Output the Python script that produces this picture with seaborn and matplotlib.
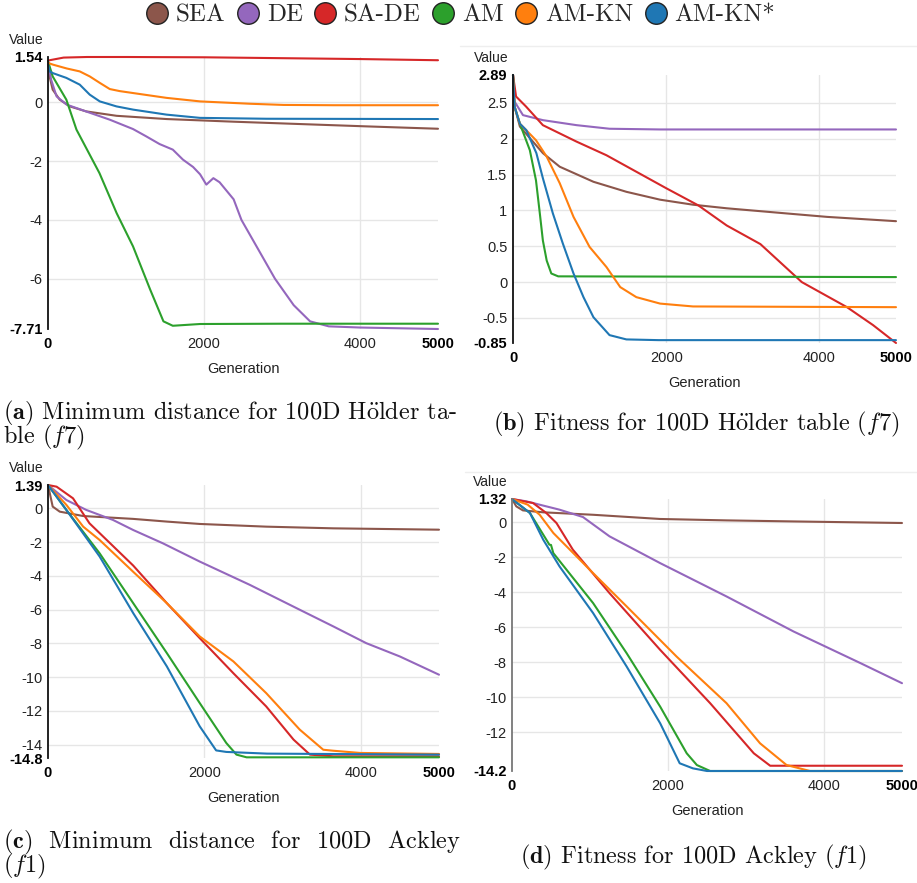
import matplotlib
matplotlib.use("Agg")
import matplotlib.pyplot as plt
from matplotlib.lines import Line2D
from matplotlib.font_manager import FontProperties
import seaborn as sns
import pandas as pd

# ---------------- data ----------------
algorithms = ["SEA", "DE", "SA-DE", "AM", "AM-KN", "AM-KN*"]
colors = ["#8c564b", "#9467bd", "#d62728", "#2ca02c", "#ff7f0e", "#1f77b4"]

# (a) Minimum distance, Holder table
a_SEA_gen = [0, 20, 60, 150, 280, 490, 880, 1520, 2380, 3230, 4090, 5000]
a_SEA_val = [1.40, 0.88, 0.43, 0.09, -0.14, -0.31, -0.46, -0.57, -0.66, -0.74, -0.82, -0.90]
a_DE_gen = [0, 40, 110, 240, 540, 790, 1090, 1260, 1430, 1600, 1730, 1860, 1950, 2030, 2120, 2200, 2380, 2480, 2910, 3150, 3360, 3600, 4000, 5000]
a_DE_val = [1.40, 0.77, 0.20, -0.08, -0.36, -0.59, -0.91, -1.16, -1.42, -1.61, -1.95, -2.20, -2.45, -2.80, -2.58, -2.72, -3.30, -4.00, -6.00, -6.90, -7.45, -7.62, -7.66, -7.71]
a_SADE_gen = [0, 200, 500, 1000, 2000, 3000, 4000, 5000]
a_SADE_val = [1.42, 1.52, 1.54, 1.54, 1.53, 1.50, 1.47, 1.43]
a_AM_gen = [0, 60, 235, 365, 660, 880, 1090, 1310, 1480, 1600, 1950, 3000, 5000]
a_AM_val = [1.40, 0.88, 0.09, -0.93, -2.41, -3.77, -4.90, -6.37, -7.45, -7.60, -7.54, -7.53, -7.53]
a_AMKN_gen = [0, 64, 240, 407, 535, 664, 792, 920, 1180, 1520, 1950, 2590, 3020, 3660, 5000]
a_AMKN_val = [1.34, 1.28, 1.15, 1.05, 0.88, 0.66, 0.45, 0.38, 0.28, 0.15, 0.03, -0.05, -0.09, -0.10, -0.10]
a_AMKNs_gen = [0, 20, 64, 235, 407, 535, 664, 878, 1092, 1520, 1948, 2800, 5000]
a_AMKNs_val = [1.30, 1.05, 0.99, 0.83, 0.60, 0.26, 0.03, -0.14, -0.25, -0.42, -0.53, -0.56, -0.57]

# (b) Fitness, Holder table
b_SEA_gen = [0, 20, 90, 390, 610, 1050, 1480, 1920, 2350, 2790, 3660, 4100, 5000]
b_SEA_val = [2.89, 2.45, 2.17, 1.80, 1.61, 1.40, 1.26, 1.15, 1.08, 1.03, 0.95, 0.91, 0.85]
b_DE_gen = [0, 20, 130, 390, 830, 1260, 1920, 5000]
b_DE_val = [2.89, 2.52, 2.33, 2.26, 2.19, 2.14, 2.13, 2.13]
b_SADE_gen = [0, 40, 170, 390, 830, 1220, 1610, 2000, 2420, 2790, 3230, 3770, 4360, 4700, 5000]
b_SADE_val = [2.89, 2.59, 2.45, 2.19, 1.96, 1.77, 1.54, 1.31, 1.07, 0.79, 0.53, 0.00, -0.35, -0.60, -0.85]
b_AM_gen = [0, 20, 90, 220, 300, 350, 390, 440, 500, 590, 5000]
b_AM_val = [2.89, 2.45, 2.21, 1.84, 1.42, 0.96, 0.58, 0.30, 0.12, 0.08, 0.07]
b_AMKN_gen = [0, 20, 90, 300, 440, 610, 790, 1000, 1220, 1400, 1610, 1920, 2350, 5000]
b_AMKN_val = [2.89, 2.45, 2.21, 1.98, 1.75, 1.38, 0.91, 0.49, 0.21, -0.07, -0.21, -0.30, -0.34, -0.35]
b_AMKNs_gen = [0, 20, 90, 174, 305, 390, 520, 650, 790, 920, 1050, 1260, 1480, 1900, 5000]
b_AMKNs_val = [2.89, 2.45, 2.21, 2.12, 1.80, 1.45, 0.96, 0.54, 0.12, -0.21, -0.49, -0.74, -0.80, -0.81, -0.81]

# (c) Minimum distance, Ackley
c_SEA_gen = [0, 60, 150, 450, 1090, 1520, 1940, 2790, 3650, 5000]
c_SEA_val = [1.39, 0.11, -0.19, -0.45, -0.62, -0.78, -0.92, -1.08, -1.18, -1.26]
c_DE_gen = [0, 235, 490, 830, 1090, 1470, 1940, 2580, 3220, 3650, 4070, 4500, 5000]
c_DE_val = [1.39, 0.50, -0.09, -0.68, -1.28, -2.07, -3.15, -4.53, -6.01, -7.00, -7.99, -8.78, -9.86]
c_SADE_gen = [0, 110, 320, 530, 1090, 1520, 1940, 2370, 2790, 3140, 3350, 3650, 5000]
c_SADE_val = [1.39, 1.29, 0.60, -0.88, -3.39, -5.62, -7.69, -9.77, -11.74, -13.71, -14.60, -14.70, -14.70]
c_AM_gen = [0, 235, 660, 1090, 1520, 1940, 2280, 2410, 2540, 5000]
c_AM_val = [1.39, -0.09, -2.66, -5.62, -8.58, -11.54, -13.91, -14.60, -14.76, -14.76]
c_AMKN_gen = [0, 235, 450, 660, 1090, 1520, 1940, 2370, 2790, 3220, 3520, 3650, 3990, 5000]
c_AMKN_val = [1.39, 0.21, -1.08, -1.87, -3.76, -5.62, -7.59, -9.07, -10.95, -13.12, -14.31, -14.37, -14.50, -14.56]
c_AMKNs_gen = [0, 235, 660, 1090, 1520, 1940, 2150, 2280, 2800, 5000]
c_AMKNs_val = [1.39, -0.09, -2.85, -6.21, -9.37, -12.92, -14.35, -14.44, -14.54, -14.60]

# (d) Fitness, Ackley
d_SEA_gen = [0, 55, 140, 400, 1040, 1900, 2750, 3610, 5000]
d_SEA_val = [1.32, 0.90, 0.67, 0.56, 0.42, 0.18, 0.10, 0.04, -0.05]
d_DE_gen = [0, 180, 610, 910, 1250, 1900, 2750, 3610, 4470, 5000]
d_DE_val = [1.32, 1.19, 0.71, 0.29, -0.81, -2.34, -4.24, -6.24, -8.05, -9.19]
d_SADE_gen = [0, 270, 440, 570, 780, 1250, 1900, 2540, 3100, 3310, 5000]
d_SADE_val = [1.32, 1.09, 0.52, -0.05, -1.57, -4.05, -7.29, -10.33, -13.19, -13.90, -13.90]
d_AM_gen = [0, 230, 480, 500, 530, 1040, 1470, 1900, 2240, 2370, 2540, 5000]
d_AM_val = [1.32, 0.52, -1.29, -1.30, -1.77, -4.62, -7.48, -10.53, -13.19, -13.86, -14.2, -14.2]
d_AMKN_gen = [0, 200, 355, 530, 1040, 1470, 2110, 2750, 3180, 3520, 3820, 5000]
d_AMKN_val = [1.32, 1.00, 0.42, -0.62, -2.91, -4.81, -7.67, -10.33, -12.62, -13.86, -14.2, -14.2]
d_AMKNs_gen = [0, 230, 400, 610, 1040, 1470, 1900, 2150, 2320, 2500, 5000]
d_AMKNs_val = [1.32, 0.52, -1.00, -2.53, -5.19, -8.24, -11.48, -13.76, -14.05, -14.2, -14.2]

a_yticks = [-7.71, -6, -4, -2, 0, 1.54]
b_yticks = [-0.85, -0.5, 0, 0.5, 1, 1.5, 2, 2.5, 2.89]
c_yticks = [-14.8, -14, -12, -10, -8, -6, -4, -2, 0, 1.39]
d_yticks = [-14.2, -12, -10, -8, -6, -4, -2, 0, 1.32]
xticks = [0, 2000, 4000, 5000]

caption_a = "$\\mathbf{(a)}$ Minimum distance for 100D H$\\ddot{\\mathrm{o}}$lder ta-\nble $(f7)$"
caption_b = r"$\mathbf{(b)}$ Fitness for 100D H$\ddot{\mathrm{o}}$lder table $(f7)$"
caption_c = "$\\mathbf{(c)}$  Minimum  distance  for  100D  Ackley\n$(f1)$"
caption_d = r"$\mathbf{(d)}$ Fitness for 100D Ackley $(f1)$"


def frame(gens, vals):
    rows = []
    for alg, g, v in zip(algorithms, gens, vals):
        for gg, vv in zip(g, v):
            rows.append({"Generation": gg, "Value": vv, "Algorithm": alg})
    return pd.DataFrame(rows)


panels = [
    (frame([a_SEA_gen, a_DE_gen, a_SADE_gen, a_AM_gen, a_AMKN_gen, a_AMKNs_gen],
           [a_SEA_val, a_DE_val, a_SADE_val, a_AM_val, a_AMKN_val, a_AMKNs_val]),
     a_yticks, (48, 438, 57, 329), "#111111"),
    (frame([b_SEA_gen, b_DE_gen, b_SADE_gen, b_AM_gen, b_AMKN_gen, b_AMKNs_gen],
           [b_SEA_val, b_DE_val, b_SADE_val, b_AM_val, b_AMKN_val, b_AMKNs_val]),
     b_yticks, (513, 896, 75, 343), "#111111"),
    (frame([c_SEA_gen, c_DE_gen, c_SADE_gen, c_AM_gen, c_AMKN_gen, c_AMKNs_gen],
           [c_SEA_val, c_DE_val, c_SADE_val, c_AM_val, c_AMKN_val, c_AMKNs_val]),
     c_yticks, (48, 439, 485, 758), "#111111"),
    (frame([d_SEA_gen, d_DE_gen, d_SADE_gen, d_AM_gen, d_AMKN_gen, d_AMKNs_gen],
           [d_SEA_val, d_DE_val, d_SADE_val, d_AM_val, d_AMKN_val, d_AMKNs_val]),
     d_yticks, (512, 902, 499, 771), "#777777"),
]

# ---------------- drawing ----------------
sns.set_theme(style="white")
plt.rcParams["font.family"] = ["Liberation Sans", "DejaVu Sans"]
plt.rcParams["mathtext.fontset"] = "cm"

W, H = 917, 883
fig = plt.figure(figsize=(W / 100, H / 100), dpi=100)
fig.patch.set_facecolor("white")

for df, yt, (x0, x1, yt_px, yb_px), spine_col in panels:
    ax = fig.add_axes([x0 / W, 1 - yb_px / H, (x1 - x0) / W, (yb_px - yt_px) / H])
    ax.set_facecolor("white")
    sns.lineplot(data=df, x="Generation", y="Value", hue="Algorithm",
                 hue_order=algorithms, palette=colors, estimator=None,
                 legend=False, linewidth=1.5, ax=ax)
    for ln in ax.get_lines():
        ln.set_clip_on(False)
    ax.set_xlim(0, 5000)
    ax.set_ylim(yt[0], yt[-1])
    ax.set_xticks(xticks)
    ax.set_xticklabels([str(x) for x in xticks])
    ax.set_yticks(yt)
    ax.set_yticklabels([f"{v:g}" for v in yt])
    ax.tick_params(axis="both", length=0, labelsize=10.5, colors="#222222")
    ax.tick_params(axis="y", pad=4)
    ax.tick_params(axis="x", pad=6)
    for lab in (ax.get_yticklabels()[0], ax.get_yticklabels()[-1],
                ax.get_xticklabels()[0], ax.get_xticklabels()[-1]):
        lab.set_fontweight("bold")
        lab.set_color("black")
    ax.grid(True, color="#e6e6e6", linewidth=1.0)
    ax.set_axisbelow(True)
    for gl in (ax.yaxis.get_gridlines()[0], ax.yaxis.get_gridlines()[-1],
               ax.xaxis.get_gridlines()[0], ax.xaxis.get_gridlines()[-1]):
        gl.set_visible(False)
    for s in ("top", "right", "bottom"):
        ax.spines[s].set_visible(False)
    ax.spines["left"].set_color(spine_col)
    ax.spines["left"].set_linewidth(1.3)
    ax.set_xlabel("")
    ax.set_ylabel("")
    ax.annotate("Value", xy=(0, 1), xycoords="axes fraction", xytext=(-4, 17),
                textcoords="offset pixels", ha="right", va="center",
                fontsize=10, color="#222222")
    ax.annotate("Generation", xy=(0.5, 0), xycoords="axes fraction", xytext=(0, -40),
                textcoords="offset pixels", ha="center", va="center",
                fontsize=10.5, color="#222222")

# faint separator lines
fig.add_artist(Line2D([460 / W, 1], [1 - 46 / H] * 2, color="#eeeeee", lw=1))
fig.add_artist(Line2D([465 / W, 1], [1 - 472 / H] * 2, color="#eeeeee", lw=1))

# legend
handles = [Line2D([], [], marker="o", linestyle="", markersize=15.5,
                  markerfacecolor=c, markeredgecolor="#222222", markeredgewidth=1.0)
           for c in colors]
fig.legend(handles, algorithms, loc="center", bbox_to_anchor=(460 / W, 1 - 15 / H),
           ncol=6, frameon=False, prop=FontProperties(family="cmr10", size=18),
           handletextpad=0.25, columnspacing=0.4, handlelength=1.0, borderpad=0,
           borderaxespad=0)

# captions
cap_kw = dict(family="cmr10", fontsize=17.5, color="#111111")
fig.text(3 / W, 1 - 399 / H, caption_a, ha="left", va="top", linespacing=0.75, **cap_kw)
fig.text(696 / W, 1 - 424 / H, caption_b, ha="center", va="center", **cap_kw)
fig.text(3 / W, 1 - 828 / H, caption_c, ha="left", va="top", linespacing=0.75, **cap_kw)
fig.text(694 / W, 1 - 857 / H, caption_d, ha="center", va="center", **cap_kw)

fig.savefig("out.png", dpi=100, facecolor="white")
